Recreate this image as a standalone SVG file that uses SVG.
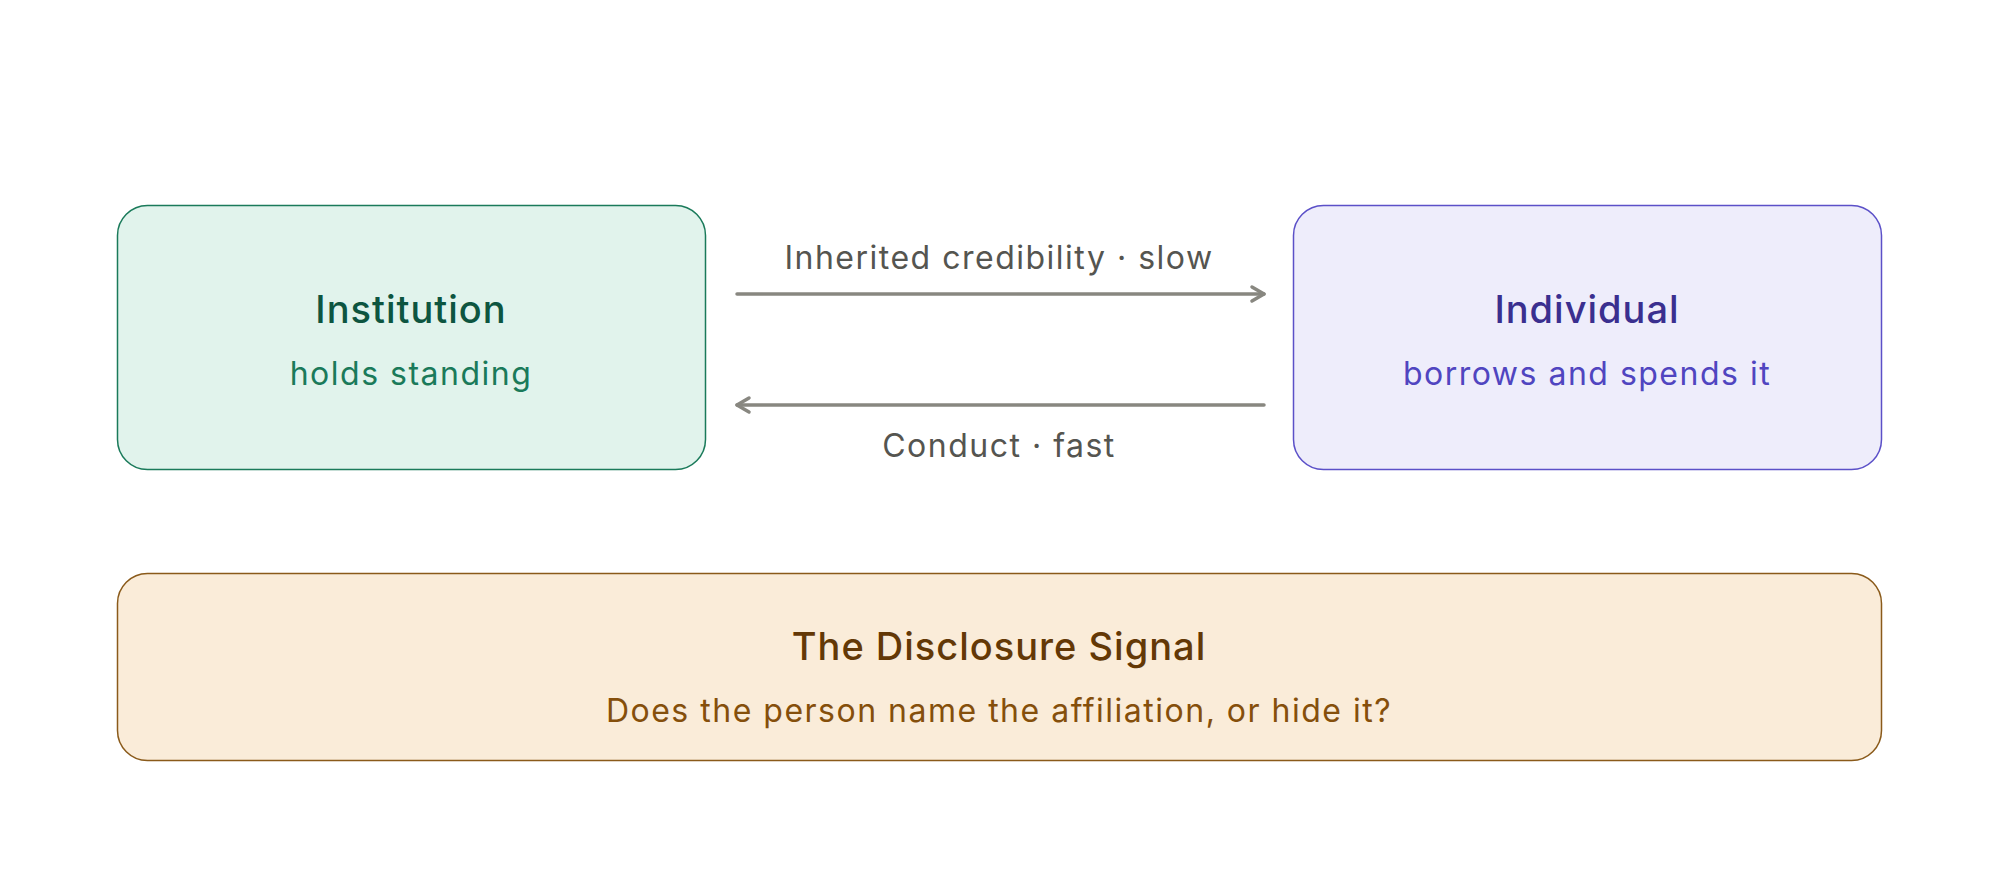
<svg xmlns="http://www.w3.org/2000/svg" width="2000" height="882" viewBox="0 0 2000 882">
<defs>
<style>
text{font-family:Inter,"Noto Sans","Liberation Sans",sans-serif;text-anchor:middle}
.t{font-size:38px;font-weight:500;letter-spacing:1px}
.s{font-size:32px;font-weight:400;letter-spacing:1.5px}
.l{font-size:32px;fill:#555550;letter-spacing:1.5px}
.e{fill:none;stroke:#888780;stroke-width:3.5;stroke-linecap:round}
</style>
<marker id="ah" viewBox="0 0 20 20" refX="16" refY="10" markerWidth="20" markerHeight="20" markerUnits="userSpaceOnUse" orient="auto">
<path d="M4 3 L16 10 L4 17" fill="none" stroke="#888780" stroke-width="3.5" stroke-linecap="round" stroke-linejoin="round"/>
</marker>
</defs>
<rect width="2000" height="882" fill="#ffffff"/>
<g id="institution">
<rect x="117.5" y="205.5" width="588" height="264" rx="30" fill="#e1f3ec" stroke="#1a7a5a" stroke-width="1.5"/>
<text class="t" x="411" y="323" fill="#0d5540">Institution</text>
<text class="s" x="411" y="385" fill="#1a7a5a">holds standing</text>
</g>
<g id="individual">
<rect x="1293.5" y="205.5" width="588" height="264" rx="30" fill="#eeedfb" stroke="#5b50c8" stroke-width="1.5"/>
<text class="t" x="1587" y="323" fill="#3a2f8f">Individual</text>
<text class="s" x="1587" y="385" fill="#5045c0">borrows and spends it</text>
</g>
<g id="disclosure">
<rect x="117.5" y="573.5" width="1764" height="187" rx="30" fill="#faecd9" stroke="#8a5a1a" stroke-width="1.5"/>
<text class="t" x="999" y="660" fill="#633806">The Disclosure Signal</text>
<text class="s" x="999" y="722" fill="#854f0b">Does the person name the affiliation, or hide it?</text>
</g>
<g id="connectors">
<line class="e" x1="737" y1="294" x2="1264" y2="294" marker-end="url(#ah)"/>
<text class="l" x="999" y="269">Inherited credibility · slow</text>
<line class="e" x1="1264" y1="405" x2="737" y2="405" marker-end="url(#ah)"/>
<text class="l" x="999" y="457">Conduct · fast</text>
</g>
</svg>
